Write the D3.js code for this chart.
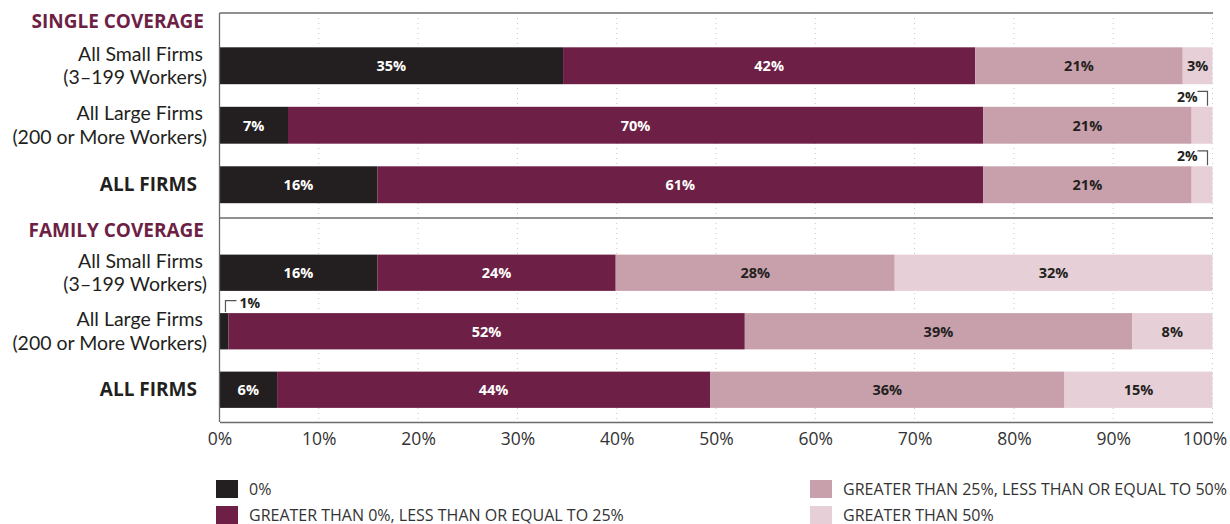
<!DOCTYPE html>
<html>
<head>
<meta charset="utf-8">
<script src="https://cdn.jsdelivr.net/npm/d3@7/dist/d3.min.js"></script>
<style>
  html, body { margin: 0; padding: 0; background: #fff; }
  svg { display: block; font-family: "Open Sans", "Noto Sans", sans-serif; }
</style>
</head>
<body>
<svg id="chart" width="1230" height="524"></svg>
<script>
// ---------- DATA ----------
const seriesNames = [
  "0%",
  "GREATER THAN 0%, LESS THAN OR EQUAL TO 25%",
  "GREATER THAN 25%, LESS THAN OR EQUAL TO 50%",
  "GREATER THAN 50%"
];
const seriesColors = ["#231f20", "#6d1f45", "#c8a0ab", "#e6cfd6"];
const labelColors = ["#ffffff", "#ffffff", "#231f20", "#231f20"];

const singleCategories = ["single-small", "single-large", "single-all"];
const familyCategories = ["family-small", "family-large", "family-all"];

const categoryLabels = {
  "single-small": ["All Small Firms", "(3\u2013199 Workers)"],
  "single-large": ["All Large Firms", "(200 or More Workers)"],
  "single-all": ["ALL FIRMS"],
  "family-small": ["All Small Firms", "(3\u2013199 Workers)"],
  "family-large": ["All Large Firms", "(200 or More Workers)"],
  "family-all": ["ALL FIRMS"]
};

const panelTitles = ["SINGLE COVERAGE", "FAMILY COVERAGE"];

// values per category: [0%, >0-25%, >25-50%, >50%]
const singleValues = [
  [34.6, 41.5, 20.9, 3.0],
  [6.9, 70.0, 21.0, 2.1],
  [15.9, 61.0, 21.0, 2.1]
];
const familyValues = [
  [15.9, 24.0, 28.1, 32.0],
  [0.9, 52.0, 39.0, 8.1],
  [5.8, 43.6, 35.7, 14.9]
];
const singleLabels = [
  ["35%", "42%", "21%", "3%"],
  ["7%", "70%", "21%", "2%"],
  ["16%", "61%", "21%", "2%"]
];
const familyLabels = [
  ["16%", "24%", "28%", "32%"],
  ["1%", "52%", "39%", "8%"],
  ["6%", "44%", "36%", "15%"]
];
const xTicks = [0, 10, 20, 30, 40, 50, 60, 70, 80, 90, 100];

// ---------- LAYOUT ----------
const FONT = "\"Open Sans\", \"Noto Sans\", sans-serif";
const svg = d3.select("#chart");
const x = d3.scaleLinear().domain([0, 100]).range([219.5, 1212.5]);

const panels = [
  { title: panelTitles[0], cats: singleCategories, vals: singleValues, labs: singleLabels,
    y: d3.scaleBand().domain(singleCategories).range([36, 214.5]).paddingInner(0.38).paddingOuter(0.19),
    titleY: 28 },
  { title: panelTitles[1], cats: familyCategories, vals: familyValues, labs: familyLabels,
    y: d3.scaleBand().domain(familyCategories).range([243.5, 419]).paddingInner(0.38).paddingOuter(0.19),
    titleY: 237 }
];

// gridlines (dotted)
const grid = svg.append("g");
grid.selectAll("line").data(xTicks.slice(1)).join("line")
  .attr("x1", d => x(d)).attr("x2", d => x(d))
  .attr("y1", 13).attr("y2", 422)
  .attr("stroke", "#c8c8c8").attr("stroke-width", 1)
  .attr("stroke-dasharray", "1,4");

panels.forEach(p => {
  const g = svg.append("g");
  // panel title
  g.append("text")
    .attr("x", 204).attr("y", p.titleY)
    .attr("text-anchor", "end")
    .attr("font-size", 19).attr("font-weight", 700)
    .attr("fill", "#6d1f45")
    .text(p.title);

  p.cats.forEach((c, i) => {
    const vals = p.vals[i];
    let cum = 0;
    const segs = vals.map((v, k) => { const s = { k, x0: cum, x1: cum + v, label: p.labs[i][k] }; cum += v; return s; });
    const y0 = p.y(c), bh = p.y.bandwidth();
    const row = g.append("g");
    row.selectAll("rect").data(segs).join("rect")
      .attr("x", d => x(d.x0)).attr("width", d => x(d.x1) - x(d.x0))
      .attr("y", y0).attr("height", bh)
      .attr("fill", d => seriesColors[d.k]);

    // segment labels (only if wide enough)
    row.selectAll("text.seg").data(segs.filter(d => d.x1 - d.x0 >= 2.5)).join("text")
      .attr("class", "seg")
      .attr("x", d => (x(d.x0) + x(d.x1)) / 2)
      .attr("y", y0 + bh / 2 + 5.5)
      .attr("text-anchor", "middle")
      .attr("font-size", 14.5).attr("font-weight", 700)
      .attr("fill", d => labelColors[d.k])
      .text(d => d.label);

    // callouts for tiny segments
    segs.filter(d => d.x1 - d.x0 < 2.5).forEach(d => {
      if (d.k === 3) {
        const vx = x(d.x1) - 5;
        row.append("path")
          .attr("d", `M${vx - 10},${y0 - 15.5}H${vx}V${y0 - 1}`)
          .attr("fill", "none").attr("stroke", "#555").attr("stroke-width", 1.2);
        row.append("text")
          .attr("x", vx - 10).attr("y", y0 - 5)
          .attr("text-anchor", "end")
          .attr("font-size", 14).attr("font-weight", 700).attr("fill", "#231f20")
          .text(d.label);
      } else {
        const vx = (x(d.x0) + x(d.x1)) / 2 + 1.5;
        row.append("path")
          .attr("d", `M${vx},${y0 - 1}V${y0 - 12.5}H${vx + 11}`)
          .attr("fill", "none").attr("stroke", "#555").attr("stroke-width", 1.2);
        row.append("text")
          .attr("x", vx + 14).attr("y", y0 - 5)
          .attr("text-anchor", "start")
          .attr("font-size", 14).attr("font-weight", 700).attr("fill", "#231f20")
          .text(d.label);
      }
    });

    // category label
    const lines = categoryLabels[c];
    const cy = y0 + bh / 2;
    const isAll = lines.length === 1;
    if (isAll) {
      g.append("text")
        .attr("text-anchor", "end")
        .attr("font-size", 19).attr("font-weight", 700)
        .attr("fill", "#231f20")
        .attr("x", 197).attr("y", cy + 6).text(lines[0]);
    } else {
      g.append("text")
        .attr("text-anchor", "end")
        .attr("font-family", "Lato, \"Open Sans\", sans-serif")
        .attr("font-size", 19.5)
        .attr("fill", "#231f20")
        .attr("x", 203).attr("y", cy - 5).text(lines[0]);
      g.append("text")
        .attr("text-anchor", "end")
        .attr("font-family", "Lato, \"Open Sans\", sans-serif")
        .attr("font-size", 19.5)
        .attr("fill", "#231f20")
        .attr("x", 207).attr("y", cy + 18.5).text(lines[1]);
    }
  });
});

// frame lines
const frame = svg.append("g").attr("stroke", "#6b6b6b").attr("stroke-width", 1.3);
frame.append("line").attr("x1", 219.5).attr("x2", 1213).attr("y1", 13).attr("y2", 13);
frame.append("line").attr("x1", 219.5).attr("x2", 1213).attr("y1", 218).attr("y2", 218);
frame.append("line").attr("x1", 219.5).attr("x2", 219.5).attr("y1", 13).attr("y2", 422);

// x axis
const axis = svg.append("g")
  .attr("transform", "translate(0,422)")
  .call(d3.axisBottom(x).tickValues(xTicks).tickFormat(d => d + "%").tickSize(0).tickPadding(11));
axis.select(".domain").attr("stroke", "#6b6b6b").attr("stroke-width", 1.3);
axis.selectAll("text")
  .attr("font-family", FONT)
  .attr("font-size", 17.5).attr("fill", "#333")
  .attr("dx", d => d === 100 ? -8 : 0);

// legend
const legendItems = [
  { k: 0, lx: 216, ly: 480 },
  { k: 1, lx: 216, ly: 506 },
  { k: 2, lx: 810, ly: 480 },
  { k: 3, lx: 810, ly: 506 }
];
const lg = svg.append("g");
legendItems.forEach(it => {
  lg.append("rect").attr("x", it.lx).attr("y", it.ly).attr("width", 22).attr("height", 18)
    .attr("fill", seriesColors[it.k]);
  lg.append("text").attr("x", it.lx + 33).attr("y", it.ly + 14.5)
    .attr("font-size", 16).attr("fill", "#333")
    .text(seriesNames[it.k]);
});
</script>
</body>
</html>
